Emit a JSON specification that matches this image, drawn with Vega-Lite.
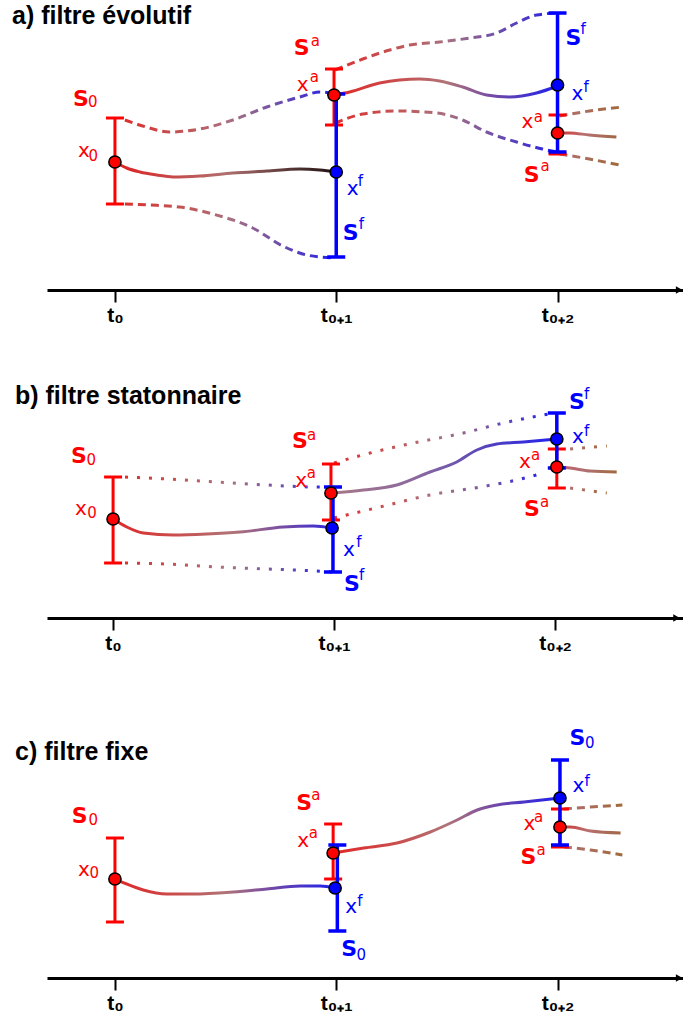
{
  "$schema": "https://vega.github.io/schema/vega-lite/v6.json",
  "padding": {"left": 12, "top": 0, "right": 0, "bottom": 0},
  "background": "white",
  "bounds": "flush",
  "spacing": 50,
  "config": {"view": {"stroke": null}, "font": "DejaVu Sans"},
  "datasets": {
    "courbes": [
      {"seg":"a1","t":0,"v":128},{"seg":"a1","t":0.053,"v":122},{"seg":"a1","t":0.113,"v":118},{"seg":"a1","t":0.188,"v":115},{"seg":"a1","t":0.262,"v":113},{"seg":"a1","t":0.384,"v":114},{"seg":"a1","t":0.533,"v":117},{"seg":"a1","t":0.685,"v":119},{"seg":"a1","t":0.835,"v":121},{"seg":"a1","t":0.926,"v":120},{"seg":"a1","t":1.0,"v":118},
      {"seg":"a2","t":0.045,"v":170},{"seg":"a2","t":0.126,"v":164},{"seg":"a2","t":0.248,"v":158},{"seg":"a2","t":0.384,"v":161},{"seg":"a2","t":0.533,"v":170},{"seg":"a2","t":0.686,"v":183},{"seg":"a2","t":0.835,"v":193},{"seg":"a2","t":0.926,"v":198},{"seg":"a2","t":0.995,"v":196},
      {"seg":"a3","t":0.045,"v":86},{"seg":"a3","t":0.158,"v":85},{"seg":"a3","t":0.293,"v":83},{"seg":"a3","t":0.442,"v":76},{"seg":"a3","t":0.623,"v":62},{"seg":"a3","t":0.758,"v":44},{"seg":"a3","t":0.867,"v":35},{"seg":"a3","t":0.995,"v":32},
      {"seg":"a4","t":0.99,"v":195},{"seg":"a4","t":1.061,"v":198},{"seg":"a4","t":1.196,"v":207},{"seg":"a4","t":1.377,"v":211},{"seg":"a4","t":1.467,"v":209},{"seg":"a4","t":1.571,"v":203},{"seg":"a4","t":1.679,"v":195},{"seg":"a4","t":1.783,"v":193},{"seg":"a4","t":1.905,"v":197},{"seg":"a4","t":2.0,"v":204},
      {"seg":"a5","t":0.995,"v":220},{"seg":"a5","t":1.12,"v":231},{"seg":"a5","t":1.242,"v":240},{"seg":"a5","t":1.332,"v":245},{"seg":"a5","t":1.467,"v":248},{"seg":"a5","t":1.603,"v":252},{"seg":"a5","t":1.725,"v":257},{"seg":"a5","t":1.815,"v":267},{"seg":"a5","t":1.905,"v":275},{"seg":"a5","t":2.0,"v":277},
      {"seg":"a6","t":0.995,"v":167},{"seg":"a6","t":1.12,"v":176},{"seg":"a6","t":1.273,"v":179},{"seg":"a6","t":1.454,"v":177},{"seg":"a6","t":1.571,"v":170},{"seg":"a6","t":1.679,"v":158},{"seg":"a6","t":1.815,"v":148},{"seg":"a6","t":1.932,"v":141},{"seg":"a6","t":2.0,"v":138},
      {"seg":"a7","t":2.0,"v":157},{"seg":"a7","t":2.054,"v":157},{"seg":"a7","t":2.144,"v":155},{"seg":"a7","t":2.266,"v":153},
      {"seg":"a8","t":2.009,"v":174},{"seg":"a8","t":2.144,"v":179},{"seg":"a8","t":2.293,"v":183},
      {"seg":"a9","t":2.009,"v":136},{"seg":"a9","t":2.144,"v":131},{"seg":"a9","t":2.28,"v":125},
      {"seg":"b1","t":0,"v":99},{"seg":"b1","t":0.062,"v":91},{"seg":"b1","t":0.137,"v":85},{"seg":"b1","t":0.273,"v":83},{"seg":"b1","t":0.424,"v":84},{"seg":"b1","t":0.575,"v":86},{"seg":"b1","t":0.771,"v":91},{"seg":"b1","t":0.906,"v":92},{"seg":"b1","t":0.991,"v":90},
      {"seg":"b2","t":0.054,"v":141},{"seg":"b2","t":0.243,"v":139},{"seg":"b2","t":0.469,"v":136},{"seg":"b2","t":0.695,"v":133},{"seg":"b2","t":0.922,"v":131},{"seg":"b2","t":0.99,"v":131},
      {"seg":"b3","t":0.054,"v":55},{"seg":"b3","t":0.243,"v":54},{"seg":"b3","t":0.469,"v":51},{"seg":"b3","t":0.695,"v":49},{"seg":"b3","t":0.922,"v":47},{"seg":"b3","t":0.99,"v":46},
      {"seg":"b4","t":0.99,"v":125},{"seg":"b4","t":1.133,"v":128},{"seg":"b4","t":1.284,"v":133},{"seg":"b4","t":1.434,"v":146},{"seg":"b4","t":1.555,"v":156},{"seg":"b4","t":1.646,"v":168},{"seg":"b4","t":1.736,"v":174},{"seg":"b4","t":1.857,"v":176},{"seg":"b4","t":2.008,"v":179},
      {"seg":"b5","t":1.0,"v":155},{"seg":"b5","t":1.163,"v":165},{"seg":"b5","t":1.359,"v":175},{"seg":"b5","t":1.585,"v":185},{"seg":"b5","t":1.766,"v":195},{"seg":"b5","t":1.97,"v":204},
      {"seg":"b6","t":1.0,"v":100},{"seg":"b6","t":1.208,"v":111},{"seg":"b6","t":1.434,"v":123},{"seg":"b6","t":1.661,"v":131},{"seg":"b6","t":1.827,"v":138},{"seg":"b6","t":1.947,"v":145},
      {"seg":"b7","t":2.008,"v":151},{"seg":"b7","t":2.068,"v":150},{"seg":"b7","t":2.158,"v":147},{"seg":"b7","t":2.279,"v":146},
      {"seg":"b8","t":2.068,"v":169},{"seg":"b8","t":2.234,"v":172},
      {"seg":"b9","t":2.068,"v":130},{"seg":"b9","t":2.234,"v":125},
      {"seg":"c1","t":0,"v":99},{"seg":"c1","t":0.053,"v":94},{"seg":"c1","t":0.128,"v":88},{"seg":"c1","t":0.234,"v":84},{"seg":"c1","t":0.354,"v":84},{"seg":"c1","t":0.535,"v":86},{"seg":"c1","t":0.686,"v":89},{"seg":"c1","t":0.837,"v":92},{"seg":"c1","t":0.928,"v":92},{"seg":"c1","t":0.995,"v":90},
      {"seg":"c2","t":0.986,"v":125},{"seg":"c2","t":1.124,"v":130},{"seg":"c2","t":1.275,"v":135},{"seg":"c2","t":1.425,"v":146},{"seg":"c2","t":1.546,"v":158},{"seg":"c2","t":1.637,"v":168},{"seg":"c2","t":1.727,"v":173},{"seg":"c2","t":1.848,"v":176},{"seg":"c2","t":2.011,"v":180},
      {"seg":"c3","t":2.011,"v":151},{"seg":"c3","t":2.059,"v":151},{"seg":"c3","t":2.149,"v":147},{"seg":"c3","t":2.285,"v":145},
      {"seg":"c4","t":2.029,"v":169},{"seg":"c4","t":2.149,"v":171},{"seg":"c4","t":2.293,"v":173},
      {"seg":"c5","t":2.029,"v":131},{"seg":"c5","t":2.149,"v":128},{"seg":"c5","t":2.293,"v":123}
    ],
    "barres": [
      {"panel":"a","groupe":"analyse","t":0,"bas":86,"haut":172},
      {"panel":"a","groupe":"analyse","t":0.99,"bas":165,"haut":221},
      {"panel":"a","groupe":"analyse","t":2.0,"bas":136,"haut":175},
      {"panel":"a","groupe":"prevision","t":1.0,"bas":33,"haut":196},
      {"panel":"a","groupe":"prevision","t":2.0,"bas":138,"haut":277},
      {"panel":"b","groupe":"analyse","t":0,"bas":55,"haut":141},
      {"panel":"b","groupe":"analyse","t":0.986,"bas":98,"haut":154},
      {"panel":"b","groupe":"analyse","t":2.008,"bas":130,"haut":169},
      {"panel":"b","groupe":"prevision","t":0.995,"bas":46,"haut":131},
      {"panel":"b","groupe":"prevision","t":2.008,"bas":150,"haut":205},
      {"panel":"c","groupe":"analyse","t":0,"bas":56,"haut":140},
      {"panel":"c","groupe":"analyse","t":0.986,"bas":99,"haut":154},
      {"panel":"c","groupe":"analyse","t":2.011,"bas":131,"haut":169},
      {"panel":"c","groupe":"prevision","t":1.005,"bas":47,"haut":133},
      {"panel":"c","groupe":"prevision","t":2.011,"bas":133,"haut":218}
    ],
    "etats": [
      {"panel":"a","groupe":"analyse","t":0,"v":128},
      {"panel":"a","groupe":"prevision","t":1.0,"v":118},
      {"panel":"a","groupe":"analyse","t":0.99,"v":195},
      {"panel":"a","groupe":"prevision","t":2.0,"v":205},
      {"panel":"a","groupe":"analyse","t":2.0,"v":157},
      {"panel":"b","groupe":"analyse","t":0,"v":99},
      {"panel":"b","groupe":"prevision","t":0.991,"v":90},
      {"panel":"b","groupe":"analyse","t":0.986,"v":125},
      {"panel":"b","groupe":"prevision","t":2.008,"v":179},
      {"panel":"b","groupe":"analyse","t":2.008,"v":151},
      {"panel":"c","groupe":"analyse","t":0,"v":99},
      {"panel":"c","groupe":"prevision","t":0.995,"v":90},
      {"panel":"c","groupe":"analyse","t":0.986,"v":125},
      {"panel":"c","groupe":"prevision","t":2.011,"v":180},
      {"panel":"c","groupe":"analyse","t":2.011,"v":151}
    ],
    "etiquettes": [
      {"panel":"a","groupe":"analyse","kind":"S","texte":"S","t":-0.19,"v":184},
      {"panel":"a","groupe":"analyse","kind":"indice","texte":"0","t":-0.122,"v":183},
      {"panel":"a","groupe":"analyse","kind":"x","texte":"x","t":-0.167,"v":133},
      {"panel":"a","groupe":"analyse","kind":"indice","texte":"0","t":-0.12,"v":129},
      {"panel":"a","groupe":"analyse","kind":"S","texte":"S","t":0.808,"v":235},
      {"panel":"a","groupe":"analyse","kind":"indice","texte":"a","t":0.885,"v":244},
      {"panel":"a","groupe":"analyse","kind":"x","texte":"x","t":0.822,"v":199},
      {"panel":"a","groupe":"analyse","kind":"indice","texte":"a","t":0.88,"v":208},
      {"panel":"a","groupe":"prevision","kind":"x","texte":"x","t":1.047,"v":95},
      {"panel":"a","groupe":"prevision","kind":"indice","texte":"f","t":1.097,"v":104},
      {"panel":"a","groupe":"prevision","kind":"S","texte":"S","t":1.029,"v":50},
      {"panel":"a","groupe":"prevision","kind":"indice","texte":"f","t":1.102,"v":61},
      {"panel":"a","groupe":"prevision","kind":"S","texte":"S","t":2.036,"v":245},
      {"panel":"a","groupe":"prevision","kind":"indice","texte":"f","t":2.104,"v":256},
      {"panel":"a","groupe":"prevision","kind":"x","texte":"x","t":2.063,"v":190},
      {"panel":"a","groupe":"prevision","kind":"indice","texte":"f","t":2.117,"v":198},
      {"panel":"a","groupe":"analyse","kind":"x","texte":"x","t":1.837,"v":162},
      {"panel":"a","groupe":"analyse","kind":"indice","texte":"a","t":1.892,"v":168},
      {"panel":"a","groupe":"analyse","kind":"S","texte":"S","t":1.847,"v":108},
      {"panel":"a","groupe":"analyse","kind":"indice","texte":"a","t":1.923,"v":119},
      {"panel":"b","groupe":"analyse","kind":"S","texte":"S","t":-0.19,"v":155},
      {"panel":"b","groupe":"analyse","kind":"indice","texte":"0","t":-0.12,"v":153},
      {"panel":"b","groupe":"analyse","kind":"x","texte":"x","t":-0.172,"v":103},
      {"panel":"b","groupe":"analyse","kind":"indice","texte":"0","t":-0.117,"v":100},
      {"panel":"b","groupe":"analyse","kind":"S","texte":"S","t":0.81,"v":170},
      {"panel":"b","groupe":"analyse","kind":"indice","texte":"a","t":0.878,"v":178},
      {"panel":"b","groupe":"analyse","kind":"x","texte":"x","t":0.824,"v":131},
      {"panel":"b","groupe":"analyse","kind":"indice","texte":"a","t":0.876,"v":140},
      {"panel":"b","groupe":"prevision","kind":"x","texte":"x","t":1.041,"v":62},
      {"panel":"b","groupe":"prevision","kind":"indice","texte":"f","t":1.1,"v":71},
      {"panel":"b","groupe":"prevision","kind":"S","texte":"S","t":1.045,"v":27},
      {"panel":"b","groupe":"prevision","kind":"indice","texte":"f","t":1.113,"v":38},
      {"panel":"b","groupe":"prevision","kind":"S","texte":"S","t":2.063,"v":209},
      {"panel":"b","groupe":"prevision","kind":"indice","texte":"f","t":2.131,"v":219},
      {"panel":"b","groupe":"prevision","kind":"x","texte":"x","t":2.077,"v":175},
      {"panel":"b","groupe":"prevision","kind":"indice","texte":"f","t":2.131,"v":182},
      {"panel":"b","groupe":"analyse","kind":"x","texte":"x","t":1.837,"v":150},
      {"panel":"b","groupe":"analyse","kind":"indice","texte":"a","t":1.891,"v":158},
      {"panel":"b","groupe":"analyse","kind":"S","texte":"S","t":1.86,"v":102},
      {"panel":"b","groupe":"analyse","kind":"indice","texte":"a","t":1.932,"v":111},
      {"panel":"c","groupe":"analyse","kind":"S","texte":"S","t":-0.195,"v":155},
      {"panel":"c","groupe":"analyse","kind":"indice","texte":"0","t":-0.12,"v":153},
      {"panel":"c","groupe":"analyse","kind":"x","texte":"x","t":-0.167,"v":102},
      {"panel":"c","groupe":"analyse","kind":"indice","texte":"0","t":-0.115,"v":100},
      {"panel":"c","groupe":"analyse","kind":"S","texte":"S","t":0.819,"v":168},
      {"panel":"c","groupe":"analyse","kind":"indice","texte":"a","t":0.887,"v":178},
      {"panel":"c","groupe":"analyse","kind":"x","texte":"x","t":0.824,"v":131},
      {"panel":"c","groupe":"analyse","kind":"indice","texte":"a","t":0.876,"v":140},
      {"panel":"c","groupe":"prevision","kind":"x","texte":"x","t":1.041,"v":65},
      {"panel":"c","groupe":"prevision","kind":"indice","texte":"f","t":1.095,"v":72},
      {"panel":"c","groupe":"prevision","kind":"S","texte":"S","t":1.023,"v":22},
      {"panel":"c","groupe":"prevision","kind":"indice","texte":"0","t":1.092,"v":18},
      {"panel":"c","groupe":"prevision","kind":"S","texte":"S","t":2.054,"v":233},
      {"panel":"c","groupe":"prevision","kind":"indice","texte":"0","t":2.124,"v":230},
      {"panel":"c","groupe":"prevision","kind":"x","texte":"x","t":2.068,"v":186},
      {"panel":"c","groupe":"prevision","kind":"indice","texte":"f","t":2.122,"v":192},
      {"panel":"c","groupe":"analyse","kind":"x","texte":"x","t":1.846,"v":148},
      {"panel":"c","groupe":"analyse","kind":"indice","texte":"a","t":1.894,"v":156},
      {"panel":"c","groupe":"analyse","kind":"S","texte":"S","t":1.833,"v":114},
      {"panel":"c","groupe":"analyse","kind":"indice","texte":"a","t":1.905,"v":123}
    ],
    "fleche": [{"t": 2.55, "v": 0}]
  },
  "vconcat": [
    {
      "width": 636, "height": 290,
      "title": {"text": "a) filtre évolutif", "anchor": "start", "frame": "group", "orient": "top", "offset": -49, "dx": -35, "baseline": "alphabetic", "font": "Liberation Sans", "fontSize": 25, "fontWeight": "bold", "color": "black"},
      "encoding": {"x": {"field": "t", "type": "quantitative", "scale": {"domain": [-0.307, 2.567], "nice": false, "zero": false},
        "axis": {"values": [0, 1, 2], "labelExpr": "datum.value == 0 ? 't₀' : datum.value == 1 ? 't₀₊₁' : 't₀₊₂'", "title": null, "grid": false, "domainColor": "black", "domainWidth": 3, "tickColor": "black", "tickWidth": 2, "tickSize": 12, "labelFont": "Liberation Sans", "labelFontWeight": "bold", "labelFontSize": 21, "labelColor": "black", "labelPadding": 2, "labelFlush": false, "labelOverlap": false}}},
      "layer": [
        {"data": {"name": "courbes"}, "transform": [{"filter": {"field": "seg", "oneOf": ["a1"]}}],
         "mark": {"type": "line", "interpolate": "monotone", "strokeWidth": 3, "stroke": {"gradient": "linear", "stops": [{"offset": 0, "color": "#e02020"}, {"offset": 0.25, "color": "#c84848"}, {"offset": 0.5, "color": "#b07070"}, {"offset": 0.78, "color": "#5a3838"}, {"offset": 1, "color": "#201010"}]}},
         "encoding": {"y": {"field": "v", "type": "quantitative", "scale": {"domain": [0, 290], "nice": false, "zero": false}, "axis": null}, "detail": {"field": "seg"}}},
        {"data": {"name": "courbes"}, "transform": [{"filter": {"field": "seg", "oneOf": ["a4"]}}],
         "mark": {"type": "line", "interpolate": "monotone", "strokeWidth": 3, "stroke": {"gradient": "linear", "stops": [{"offset": 0, "color": "#e02828"}, {"offset": 0.3, "color": "#c85050"}, {"offset": 0.5, "color": "#b07478"}, {"offset": 0.72, "color": "#7048a8"}, {"offset": 0.88, "color": "#4030d0"}, {"offset": 1, "color": "#2020f0"}]}},
         "encoding": {"y": {"field": "v", "type": "quantitative", "scale": {"domain": [0, 290], "nice": false, "zero": false}, "axis": null}, "detail": {"field": "seg"}}},
        {"data": {"name": "courbes"}, "transform": [{"filter": {"field": "seg", "oneOf": ["a2", "a3", "a5", "a6"]}}],
         "mark": {"type": "line", "interpolate": "monotone", "strokeWidth": 3, "strokeDash": [8, 5], "stroke": {"gradient": "linear", "stops": [{"offset": 0, "color": "#dc3030"}, {"offset": 0.3, "color": "#c05858"}, {"offset": 0.5, "color": "#a87080"}, {"offset": 0.72, "color": "#7050a8"}, {"offset": 0.9, "color": "#4030d0"}, {"offset": 1, "color": "#2020f0"}]}},
         "encoding": {"y": {"field": "v", "type": "quantitative", "scale": {"domain": [0, 290], "nice": false, "zero": false}, "axis": null}, "detail": {"field": "seg"}}},
        {"data": {"name": "courbes"}, "transform": [{"filter": {"field": "seg", "oneOf": ["a7"]}}],
         "mark": {"type": "line", "interpolate": "monotone", "strokeWidth": 3, "stroke": {"gradient": "linear", "stops": [{"offset": 0, "color": "#d83030"}, {"offset": 0.45, "color": "#b87070"}, {"offset": 1, "color": "#a06848"}]}},
         "encoding": {"y": {"field": "v", "type": "quantitative", "scale": {"domain": [0, 290], "nice": false, "zero": false}, "axis": null}, "detail": {"field": "seg"}}},
        {"data": {"name": "courbes"}, "transform": [{"filter": {"field": "seg", "oneOf": ["a8", "a9"]}}],
         "mark": {"type": "line", "interpolate": "monotone", "strokeWidth": 3, "strokeDash": [8, 5], "stroke": {"gradient": "linear", "stops": [{"offset": 0, "color": "#b07070"}, {"offset": 1, "color": "#a06a3c"}]}},
         "encoding": {"y": {"field": "v", "type": "quantitative", "scale": {"domain": [0, 290], "nice": false, "zero": false}, "axis": null}, "detail": {"field": "seg"}}},
        {"data": {"name": "barres"}, "transform": [{"filter": "datum.panel == 'a' && datum.groupe == 'analyse'"}],
         "mark": {"type": "rule", "strokeWidth": 3},
         "encoding": {"y": {"field": "bas", "type": "quantitative", "scale": {"domain": [0, 290], "nice": false, "zero": false}, "axis": null}, "y2": {"field": "haut"}, "color": {"field": "groupe", "type": "nominal", "scale": {"domain": ["analyse", "prevision"], "range": ["#ff0000", "#0000ff"]}, "legend": null}}},
        {"data": {"name": "barres"}, "transform": [{"filter": "datum.panel == 'a' && datum.groupe == 'analyse'"}, {"fold": ["bas", "haut"], "as": ["bout", "val"]}],
         "mark": {"type": "tick", "orient": "horizontal", "size": 18, "thickness": 3, "opacity": 1},
         "encoding": {"y": {"field": "val", "type": "quantitative", "scale": {"domain": [0, 290], "nice": false, "zero": false}, "axis": null}, "color": {"field": "groupe", "type": "nominal", "scale": {"domain": ["analyse", "prevision"], "range": ["#ff0000", "#0000ff"]}, "legend": null}}},
        {"data": {"name": "barres"}, "transform": [{"filter": "datum.panel == 'a' && datum.groupe == 'prevision'"}],
         "mark": {"type": "rule", "strokeWidth": 3.5},
         "encoding": {"y": {"field": "bas", "type": "quantitative", "scale": {"domain": [0, 290], "nice": false, "zero": false}, "axis": null}, "y2": {"field": "haut"}, "color": {"field": "groupe", "type": "nominal", "scale": {"domain": ["analyse", "prevision"], "range": ["#ff0000", "#0000ff"]}, "legend": null}}},
        {"data": {"name": "barres"}, "transform": [{"filter": "datum.panel == 'a' && datum.groupe == 'prevision'"}, {"fold": ["bas", "haut"], "as": ["bout", "val"]}],
         "mark": {"type": "tick", "orient": "horizontal", "size": 18, "thickness": 3.5, "opacity": 1},
         "encoding": {"y": {"field": "val", "type": "quantitative", "scale": {"domain": [0, 290], "nice": false, "zero": false}, "axis": null}, "color": {"field": "groupe", "type": "nominal", "scale": {"domain": ["analyse", "prevision"], "range": ["#ff0000", "#0000ff"]}, "legend": null}}},
        {"data": {"name": "etats"}, "transform": [{"filter": "datum.panel == 'a'"}],
         "mark": {"type": "point", "shape": "circle", "filled": true, "size": 150, "stroke": "black", "strokeWidth": 1.5, "opacity": 1},
         "encoding": {"y": {"field": "v", "type": "quantitative", "scale": {"domain": [0, 290], "nice": false, "zero": false}, "axis": null}, "color": {"field": "groupe", "type": "nominal", "scale": {"domain": ["analyse", "prevision"], "range": ["#ff0000", "#0000ff"]}, "legend": null}}},
        {"data": {"name": "etiquettes"}, "transform": [{"filter": "datum.panel == 'a' && datum.kind == 'S'"}],
         "mark": {"type": "text", "align": "left", "baseline": "alphabetic", "font": "DejaVu Sans", "fontSize": 22, "fontWeight": "bold"},
         "encoding": {"y": {"field": "v", "type": "quantitative", "scale": {"domain": [0, 290], "nice": false, "zero": false}, "axis": null}, "text": {"field": "texte"}, "color": {"field": "groupe", "type": "nominal", "scale": {"domain": ["analyse", "prevision"], "range": ["#ff0000", "#0000ff"]}, "legend": null}}},
        {"data": {"name": "etiquettes"}, "transform": [{"filter": "datum.panel == 'a' && datum.kind == 'x'"}],
         "mark": {"type": "text", "align": "left", "baseline": "alphabetic", "font": "DejaVu Sans", "fontSize": 20},
         "encoding": {"y": {"field": "v", "type": "quantitative", "scale": {"domain": [0, 290], "nice": false, "zero": false}, "axis": null}, "text": {"field": "texte"}, "color": {"field": "groupe", "type": "nominal", "scale": {"domain": ["analyse", "prevision"], "range": ["#ff0000", "#0000ff"]}, "legend": null}}},
        {"data": {"name": "etiquettes"}, "transform": [{"filter": "datum.panel == 'a' && datum.kind == 'indice'"}],
         "mark": {"type": "text", "align": "left", "baseline": "alphabetic", "font": "DejaVu Sans", "fontSize": 15},
         "encoding": {"y": {"field": "v", "type": "quantitative", "scale": {"domain": [0, 290], "nice": false, "zero": false}, "axis": null}, "text": {"field": "texte"}, "color": {"field": "groupe", "type": "nominal", "scale": {"domain": ["analyse", "prevision"], "range": ["#ff0000", "#0000ff"]}, "legend": null}}},
        {"data": {"name": "fleche"},
         "mark": {"type": "point", "shape": "triangle-right", "filled": true, "color": "black", "size": 60, "opacity": 1},
         "encoding": {"y": {"field": "v", "type": "quantitative", "scale": {"domain": [0, 290], "nice": false, "zero": false}, "axis": null}}}
      ]
    },
    {
      "width": 636, "height": 278,
      "title": {"text": "b) filtre statonnaire", "anchor": "start", "frame": "group", "orient": "top", "offset": -89, "dx": -32, "baseline": "alphabetic", "font": "Liberation Sans", "fontSize": 25, "fontWeight": "bold", "color": "black"},
      "encoding": {"x": {"field": "t", "type": "quantitative", "scale": {"domain": [-0.299, 2.579], "nice": false, "zero": false},
        "axis": {"values": [0, 1, 2], "labelExpr": "datum.value == 0 ? 't₀' : datum.value == 1 ? 't₀₊₁' : 't₀₊₂'", "title": null, "grid": false, "domainColor": "black", "domainWidth": 3, "tickColor": "black", "tickWidth": 2, "tickSize": 12, "labelFont": "Liberation Sans", "labelFontWeight": "bold", "labelFontSize": 21, "labelColor": "black", "labelPadding": 2, "labelFlush": false, "labelOverlap": false}}},
      "layer": [
        {"data": {"name": "courbes"}, "transform": [{"filter": {"field": "seg", "oneOf": ["b1"]}}],
         "mark": {"type": "line", "interpolate": "monotone", "strokeWidth": 3, "stroke": {"gradient": "linear", "stops": [{"offset": 0, "color": "#e02828"}, {"offset": 0.3, "color": "#c85050"}, {"offset": 0.55, "color": "#b07478"}, {"offset": 0.8, "color": "#7048a8"}, {"offset": 1, "color": "#3028e0"}]}},
         "encoding": {"y": {"field": "v", "type": "quantitative", "scale": {"domain": [0, 278], "nice": false, "zero": false}, "axis": null}, "detail": {"field": "seg"}}},
        {"data": {"name": "courbes"}, "transform": [{"filter": {"field": "seg", "oneOf": ["b4"]}}],
         "mark": {"type": "line", "interpolate": "monotone", "strokeWidth": 3, "stroke": {"gradient": "linear", "stops": [{"offset": 0, "color": "#a87888"}, {"offset": 0.4, "color": "#8868a0"}, {"offset": 0.72, "color": "#5040c0"}, {"offset": 1, "color": "#2020f0"}]}},
         "encoding": {"y": {"field": "v", "type": "quantitative", "scale": {"domain": [0, 278], "nice": false, "zero": false}, "axis": null}, "detail": {"field": "seg"}}},
        {"data": {"name": "courbes"}, "transform": [{"filter": {"field": "seg", "oneOf": ["b2", "b3", "b5", "b6"]}}],
         "mark": {"type": "line", "interpolate": "monotone", "strokeWidth": 3, "strokeDash": [3, 9], "stroke": {"gradient": "linear", "stops": [{"offset": 0, "color": "#dc3030"}, {"offset": 0.3, "color": "#c05858"}, {"offset": 0.5, "color": "#a87080"}, {"offset": 0.75, "color": "#7050a8"}, {"offset": 1, "color": "#2020f0"}]}},
         "encoding": {"y": {"field": "v", "type": "quantitative", "scale": {"domain": [0, 278], "nice": false, "zero": false}, "axis": null}, "detail": {"field": "seg"}}},
        {"data": {"name": "courbes"}, "transform": [{"filter": {"field": "seg", "oneOf": ["b7"]}}],
         "mark": {"type": "line", "interpolate": "monotone", "strokeWidth": 3, "stroke": {"gradient": "linear", "stops": [{"offset": 0, "color": "#c06070"}, {"offset": 0.5, "color": "#b07070"}, {"offset": 1, "color": "#a06a3c"}]}},
         "encoding": {"y": {"field": "v", "type": "quantitative", "scale": {"domain": [0, 278], "nice": false, "zero": false}, "axis": null}, "detail": {"field": "seg"}}},
        {"data": {"name": "courbes"}, "transform": [{"filter": {"field": "seg", "oneOf": ["b8", "b9"]}}],
         "mark": {"type": "line", "interpolate": "monotone", "strokeWidth": 3, "strokeDash": [3, 9], "stroke": {"gradient": "linear", "stops": [{"offset": 0, "color": "#b07070"}, {"offset": 1, "color": "#a06a3c"}]}},
         "encoding": {"y": {"field": "v", "type": "quantitative", "scale": {"domain": [0, 278], "nice": false, "zero": false}, "axis": null}, "detail": {"field": "seg"}}},
        {"data": {"name": "barres"}, "transform": [{"filter": "datum.panel == 'b' && datum.groupe == 'analyse'"}],
         "mark": {"type": "rule", "strokeWidth": 3},
         "encoding": {"y": {"field": "bas", "type": "quantitative", "scale": {"domain": [0, 278], "nice": false, "zero": false}, "axis": null}, "y2": {"field": "haut"}, "color": {"field": "groupe", "type": "nominal", "scale": {"domain": ["analyse", "prevision"], "range": ["#ff0000", "#0000ff"]}, "legend": null}}},
        {"data": {"name": "barres"}, "transform": [{"filter": "datum.panel == 'b' && datum.groupe == 'analyse'"}, {"fold": ["bas", "haut"], "as": ["bout", "val"]}],
         "mark": {"type": "tick", "orient": "horizontal", "size": 18, "thickness": 3, "opacity": 1},
         "encoding": {"y": {"field": "val", "type": "quantitative", "scale": {"domain": [0, 278], "nice": false, "zero": false}, "axis": null}, "color": {"field": "groupe", "type": "nominal", "scale": {"domain": ["analyse", "prevision"], "range": ["#ff0000", "#0000ff"]}, "legend": null}}},
        {"data": {"name": "barres"}, "transform": [{"filter": "datum.panel == 'b' && datum.groupe == 'prevision'"}],
         "mark": {"type": "rule", "strokeWidth": 3.5},
         "encoding": {"y": {"field": "bas", "type": "quantitative", "scale": {"domain": [0, 278], "nice": false, "zero": false}, "axis": null}, "y2": {"field": "haut"}, "color": {"field": "groupe", "type": "nominal", "scale": {"domain": ["analyse", "prevision"], "range": ["#ff0000", "#0000ff"]}, "legend": null}}},
        {"data": {"name": "barres"}, "transform": [{"filter": "datum.panel == 'b' && datum.groupe == 'prevision'"}, {"fold": ["bas", "haut"], "as": ["bout", "val"]}],
         "mark": {"type": "tick", "orient": "horizontal", "size": 18, "thickness": 3.5, "opacity": 1},
         "encoding": {"y": {"field": "val", "type": "quantitative", "scale": {"domain": [0, 278], "nice": false, "zero": false}, "axis": null}, "color": {"field": "groupe", "type": "nominal", "scale": {"domain": ["analyse", "prevision"], "range": ["#ff0000", "#0000ff"]}, "legend": null}}},
        {"data": {"name": "etats"}, "transform": [{"filter": "datum.panel == 'b'"}],
         "mark": {"type": "point", "shape": "circle", "filled": true, "size": 150, "stroke": "black", "strokeWidth": 1.5, "opacity": 1},
         "encoding": {"y": {"field": "v", "type": "quantitative", "scale": {"domain": [0, 278], "nice": false, "zero": false}, "axis": null}, "color": {"field": "groupe", "type": "nominal", "scale": {"domain": ["analyse", "prevision"], "range": ["#ff0000", "#0000ff"]}, "legend": null}}},
        {"data": {"name": "etiquettes"}, "transform": [{"filter": "datum.panel == 'b' && datum.kind == 'S'"}],
         "mark": {"type": "text", "align": "left", "baseline": "alphabetic", "font": "DejaVu Sans", "fontSize": 22, "fontWeight": "bold"},
         "encoding": {"y": {"field": "v", "type": "quantitative", "scale": {"domain": [0, 278], "nice": false, "zero": false}, "axis": null}, "text": {"field": "texte"}, "color": {"field": "groupe", "type": "nominal", "scale": {"domain": ["analyse", "prevision"], "range": ["#ff0000", "#0000ff"]}, "legend": null}}},
        {"data": {"name": "etiquettes"}, "transform": [{"filter": "datum.panel == 'b' && datum.kind == 'x'"}],
         "mark": {"type": "text", "align": "left", "baseline": "alphabetic", "font": "DejaVu Sans", "fontSize": 20},
         "encoding": {"y": {"field": "v", "type": "quantitative", "scale": {"domain": [0, 278], "nice": false, "zero": false}, "axis": null}, "text": {"field": "texte"}, "color": {"field": "groupe", "type": "nominal", "scale": {"domain": ["analyse", "prevision"], "range": ["#ff0000", "#0000ff"]}, "legend": null}}},
        {"data": {"name": "etiquettes"}, "transform": [{"filter": "datum.panel == 'b' && datum.kind == 'indice'"}],
         "mark": {"type": "text", "align": "left", "baseline": "alphabetic", "font": "DejaVu Sans", "fontSize": 15},
         "encoding": {"y": {"field": "v", "type": "quantitative", "scale": {"domain": [0, 278], "nice": false, "zero": false}, "axis": null}, "text": {"field": "texte"}, "color": {"field": "groupe", "type": "nominal", "scale": {"domain": ["analyse", "prevision"], "range": ["#ff0000", "#0000ff"]}, "legend": null}}},
        {"data": {"name": "fleche"},
         "mark": {"type": "point", "shape": "triangle-right", "filled": true, "color": "black", "size": 60, "opacity": 1},
         "encoding": {"y": {"field": "v", "type": "quantitative", "scale": {"domain": [0, 278], "nice": false, "zero": false}, "axis": null}}}
      ]
    },
    {
      "width": 636, "height": 310,
      "title": {"text": "c) filtre fixe", "anchor": "start", "frame": "group", "orient": "top", "offset": -117, "dx": -32, "baseline": "alphabetic", "font": "Liberation Sans", "fontSize": 25, "fontWeight": "bold", "color": "black"},
      "encoding": {"x": {"field": "t", "type": "quantitative", "scale": {"domain": [-0.307, 2.567], "nice": false, "zero": false},
        "axis": {"values": [0, 1, 2], "labelExpr": "datum.value == 0 ? 't₀' : datum.value == 1 ? 't₀₊₁' : 't₀₊₂'", "title": null, "grid": false, "domainColor": "black", "domainWidth": 3, "tickColor": "black", "tickWidth": 2, "tickSize": 12, "labelFont": "Liberation Sans", "labelFontWeight": "bold", "labelFontSize": 21, "labelColor": "black", "labelPadding": 2, "labelFlush": false, "labelOverlap": false}}},
      "layer": [
        {"data": {"name": "courbes"}, "transform": [{"filter": {"field": "seg", "oneOf": ["c1", "c2"]}}],
         "mark": {"type": "line", "interpolate": "monotone", "strokeWidth": 3, "stroke": {"gradient": "linear", "stops": [{"offset": 0, "color": "#e02828"}, {"offset": 0.3, "color": "#c85050"}, {"offset": 0.5, "color": "#b07478"}, {"offset": 0.72, "color": "#7048a8"}, {"offset": 0.88, "color": "#4030d0"}, {"offset": 1, "color": "#2020f0"}]}},
         "encoding": {"y": {"field": "v", "type": "quantitative", "scale": {"domain": [0, 310], "nice": false, "zero": false}, "axis": null}, "detail": {"field": "seg"}}},
        {"data": {"name": "courbes"}, "transform": [{"filter": {"field": "seg", "oneOf": ["c3"]}}],
         "mark": {"type": "line", "interpolate": "monotone", "strokeWidth": 3, "stroke": {"gradient": "linear", "stops": [{"offset": 0, "color": "#d83030"}, {"offset": 0.45, "color": "#b87070"}, {"offset": 1, "color": "#a06848"}]}},
         "encoding": {"y": {"field": "v", "type": "quantitative", "scale": {"domain": [0, 310], "nice": false, "zero": false}, "axis": null}, "detail": {"field": "seg"}}},
        {"data": {"name": "courbes"}, "transform": [{"filter": {"field": "seg", "oneOf": ["c4", "c5"]}}],
         "mark": {"type": "line", "interpolate": "monotone", "strokeWidth": 3, "strokeDash": [8, 5], "stroke": {"gradient": "linear", "stops": [{"offset": 0, "color": "#b07070"}, {"offset": 1, "color": "#a06a3c"}]}},
         "encoding": {"y": {"field": "v", "type": "quantitative", "scale": {"domain": [0, 310], "nice": false, "zero": false}, "axis": null}, "detail": {"field": "seg"}}},
        {"data": {"name": "barres"}, "transform": [{"filter": "datum.panel == 'c' && datum.groupe == 'analyse'"}],
         "mark": {"type": "rule", "strokeWidth": 3},
         "encoding": {"y": {"field": "bas", "type": "quantitative", "scale": {"domain": [0, 310], "nice": false, "zero": false}, "axis": null}, "y2": {"field": "haut"}, "color": {"field": "groupe", "type": "nominal", "scale": {"domain": ["analyse", "prevision"], "range": ["#ff0000", "#0000ff"]}, "legend": null}}},
        {"data": {"name": "barres"}, "transform": [{"filter": "datum.panel == 'c' && datum.groupe == 'analyse'"}, {"fold": ["bas", "haut"], "as": ["bout", "val"]}],
         "mark": {"type": "tick", "orient": "horizontal", "size": 18, "thickness": 3, "opacity": 1},
         "encoding": {"y": {"field": "val", "type": "quantitative", "scale": {"domain": [0, 310], "nice": false, "zero": false}, "axis": null}, "color": {"field": "groupe", "type": "nominal", "scale": {"domain": ["analyse", "prevision"], "range": ["#ff0000", "#0000ff"]}, "legend": null}}},
        {"data": {"name": "barres"}, "transform": [{"filter": "datum.panel == 'c' && datum.groupe == 'prevision'"}],
         "mark": {"type": "rule", "strokeWidth": 3.5},
         "encoding": {"y": {"field": "bas", "type": "quantitative", "scale": {"domain": [0, 310], "nice": false, "zero": false}, "axis": null}, "y2": {"field": "haut"}, "color": {"field": "groupe", "type": "nominal", "scale": {"domain": ["analyse", "prevision"], "range": ["#ff0000", "#0000ff"]}, "legend": null}}},
        {"data": {"name": "barres"}, "transform": [{"filter": "datum.panel == 'c' && datum.groupe == 'prevision'"}, {"fold": ["bas", "haut"], "as": ["bout", "val"]}],
         "mark": {"type": "tick", "orient": "horizontal", "size": 18, "thickness": 3.5, "opacity": 1},
         "encoding": {"y": {"field": "val", "type": "quantitative", "scale": {"domain": [0, 310], "nice": false, "zero": false}, "axis": null}, "color": {"field": "groupe", "type": "nominal", "scale": {"domain": ["analyse", "prevision"], "range": ["#ff0000", "#0000ff"]}, "legend": null}}},
        {"data": {"name": "etats"}, "transform": [{"filter": "datum.panel == 'c'"}],
         "mark": {"type": "point", "shape": "circle", "filled": true, "size": 150, "stroke": "black", "strokeWidth": 1.5, "opacity": 1},
         "encoding": {"y": {"field": "v", "type": "quantitative", "scale": {"domain": [0, 310], "nice": false, "zero": false}, "axis": null}, "color": {"field": "groupe", "type": "nominal", "scale": {"domain": ["analyse", "prevision"], "range": ["#ff0000", "#0000ff"]}, "legend": null}}},
        {"data": {"name": "etiquettes"}, "transform": [{"filter": "datum.panel == 'c' && datum.kind == 'S'"}],
         "mark": {"type": "text", "align": "left", "baseline": "alphabetic", "font": "DejaVu Sans", "fontSize": 22, "fontWeight": "bold"},
         "encoding": {"y": {"field": "v", "type": "quantitative", "scale": {"domain": [0, 310], "nice": false, "zero": false}, "axis": null}, "text": {"field": "texte"}, "color": {"field": "groupe", "type": "nominal", "scale": {"domain": ["analyse", "prevision"], "range": ["#ff0000", "#0000ff"]}, "legend": null}}},
        {"data": {"name": "etiquettes"}, "transform": [{"filter": "datum.panel == 'c' && datum.kind == 'x'"}],
         "mark": {"type": "text", "align": "left", "baseline": "alphabetic", "font": "DejaVu Sans", "fontSize": 20},
         "encoding": {"y": {"field": "v", "type": "quantitative", "scale": {"domain": [0, 310], "nice": false, "zero": false}, "axis": null}, "text": {"field": "texte"}, "color": {"field": "groupe", "type": "nominal", "scale": {"domain": ["analyse", "prevision"], "range": ["#ff0000", "#0000ff"]}, "legend": null}}},
        {"data": {"name": "etiquettes"}, "transform": [{"filter": "datum.panel == 'c' && datum.kind == 'indice'"}],
         "mark": {"type": "text", "align": "left", "baseline": "alphabetic", "font": "DejaVu Sans", "fontSize": 15},
         "encoding": {"y": {"field": "v", "type": "quantitative", "scale": {"domain": [0, 310], "nice": false, "zero": false}, "axis": null}, "text": {"field": "texte"}, "color": {"field": "groupe", "type": "nominal", "scale": {"domain": ["analyse", "prevision"], "range": ["#ff0000", "#0000ff"]}, "legend": null}}},
        {"data": {"name": "fleche"},
         "mark": {"type": "point", "shape": "triangle-right", "filled": true, "color": "black", "size": 60, "opacity": 1},
         "encoding": {"y": {"field": "v", "type": "quantitative", "scale": {"domain": [0, 310], "nice": false, "zero": false}, "axis": null}}}
      ]
    }
  ]
}
